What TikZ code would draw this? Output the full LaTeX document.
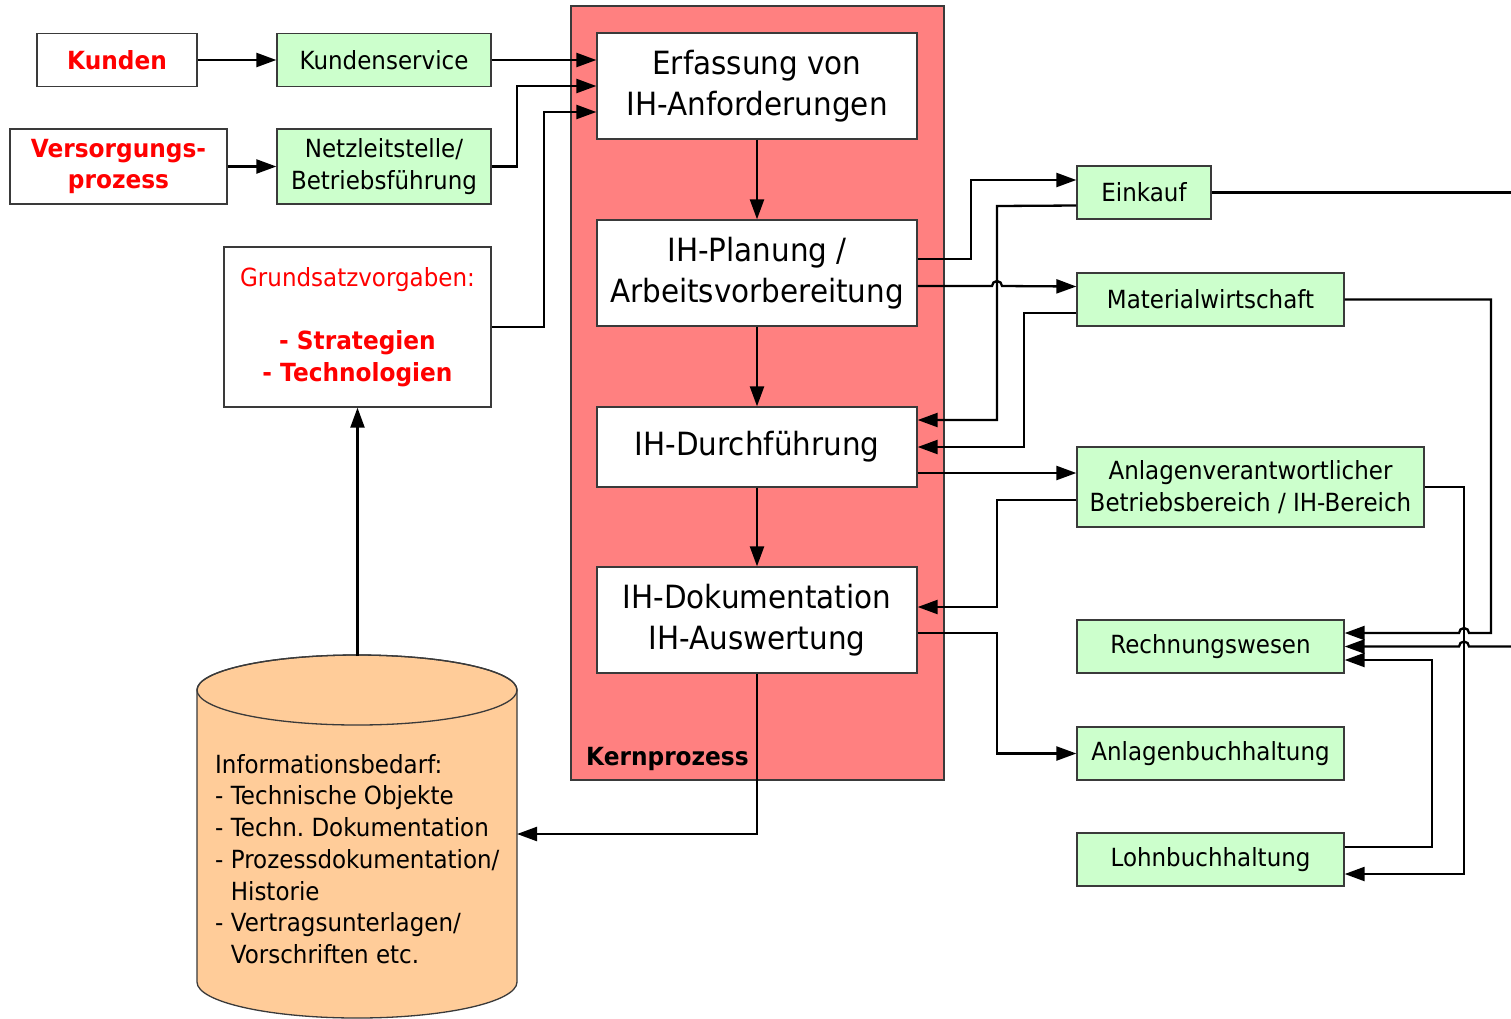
\documentclass[tikz,border=0pt]{standalone}
\usepackage{fontspec}
\setmainfont{DejaVu Sans}[FakeStretch=0.92,BoldFeatures={FakeStretch=0.93}]
\usetikzlibrary{arrows.meta}
\definecolor{kerncol}{HTML}{FF8080}
\definecolor{gfill}{HTML}{CCFFCC}
\definecolor{dbfill}{HTML}{FFCC99}
\definecolor{bord}{HTML}{3A3A3A}
\newcommand\fbig{\fontsize{32}{41}\selectfont}
\newcommand\fsmall{\fontsize{25}{31.5}\selectfont}
\frenchspacing
\begin{document}
\begin{tikzpicture}[x=1pt,y=-1pt,
  box/.style={draw=bord,line width=1.3pt,fill=white,inner sep=0pt,align=center,font=\fsmall},
  gbox/.style={box,fill=gfill},
  kbox/.style={box,font=\fbig,minimum width=320pt},
  redbold/.style={text=red,font=\fsmall\bfseries},
  conn/.style={line width=2.3pt,-{Triangle[length=20pt,width=14pt]}},
  plainconn/.style={line width=2.3pt}]
\useasboundingbox (0,0) rectangle (1511,1018);
\fill[white] (0,0) rectangle (1511,1018);

% Kernprozess area
\node[draw=bord,line width=1.3pt,fill=kerncol,minimum width=373pt,minimum height=774pt,inner sep=0pt] (kern) at (757.5,393) {};
\node[anchor=west,font=\fsmall\bfseries,inner sep=0pt] (kernlabel) at (586,759) {Kernprozess};

% left boxes
\node[box,redbold,minimum width=160pt,minimum height=53pt] (kunden) at (117,60) {Kunden};
\node[gbox,minimum width=214pt,minimum height=53pt] (ks) at (384,60) {Kundenservice};
\node[box,redbold,minimum width=217pt,minimum height=75pt] (vers) at (118.5,166.5) {Versorgungs-\\prozess};
\node[gbox,minimum width=214pt,minimum height=75pt] (netz) at (384,166.5) {Netzleitstelle/\\Betriebsführung};
\node[box,text=red,minimum width=267pt,minimum height=160pt] (grund) at (357.5,327) {Grundsatzvorgaben:\\[31.5pt]\textbf{- Strategien}\\\textbf{- Technologien}};

% core process boxes
\node[kbox,minimum height=106pt] (erf) at (757,86) {Erfassung von\\IH-Anforderungen};
\node[kbox,minimum height=106pt] (plan) at (757,273) {IH-Planung /\\Arbeitsvorbereitung};
\node[kbox,minimum height=80pt] (durch) at (757,447) {IH-Durchführung};
\node[kbox,minimum height=106pt] (doku) at (757,620) {IH-Dokumentation\\IH-Auswertung};

% right boxes
\node[gbox,minimum width=134pt,minimum height=53pt] (einkauf) at (1144,192.5) {Einkauf};
\node[gbox,minimum width=267pt,minimum height=53pt] (mat) at (1210.5,299.5) {Materialwirtschaft};
\node[gbox,minimum width=347pt,minimum height=80pt] (anl) at (1250.5,487) {Anlagenverantwortlicher\\Betriebsbereich / IH-Bereich};
\node[gbox,minimum width=267pt,minimum height=53pt] (rech) at (1210.5,646.5) {Rechnungswesen};
\node[gbox,minimum width=267pt,minimum height=53pt] (abuch) at (1210.5,753.5) {Anlagenbuchhaltung};
\node[gbox,minimum width=267pt,minimum height=53pt] (lohn) at (1210.5,859.5) {Lohnbuchhaltung};

% cylinder (database)
\filldraw[draw=bord,line width=1.3pt,fill=dbfill] (197,690) -- (197,982)
  arc[start angle=180,end angle=360,x radius=160pt,y radius=36pt] -- (517,690)
  arc[start angle=0,end angle=180,x radius=160pt,y radius=35pt] -- cycle;
\draw[draw=bord,line width=1.3pt] (357,690) ellipse[x radius=160pt,y radius=35pt];
\node[anchor=west,align=left,inner sep=0pt,font=\fontsize{25}{31.7}\selectfont] (dbtext) at (215,859)
  {Informationsbedarf:\\- Technische Objekte\\- Techn. Dokumentation\\- Prozessdokumentation/\\\hphantom{- }Historie\\- Vertragsunterlagen/\\\hphantom{- }Vorschriften etc.};
\coordinate (dbtop) at (357.5,656);
\coordinate (dbright) at (517,834);
\coordinate (eR) at (1511,192.5);
\coordinate (rR) at (1511,646.5);

% connectors left
\draw[conn] (kunden.east) -- (ks.west);
\draw[conn] (vers.east) -- (netz.west);
\draw[conn] (ks.east) -- (ks.east -| erf.west);
\draw[conn] (netz.east) -- (517,166.5) -- (517,86) -- (erf.west);
\draw[conn] (grund.east) -- (544,327) -- (544,112) -- ([yshift=-26pt]erf.west);
\draw[conn] (dbtop) -- (grund.south);

% core chain
\draw[conn] (erf.south) -- (plan.north);
\draw[conn] (plan.south) -- (durch.north);
\draw[conn] (durch.south) -- (doku.north);
\draw[conn] (doku.south) -- (757,834) -- (dbright);

% right connectors
\draw[conn] ([yshift=14pt]plan.east) -- (971,259) -- (971,180) -- ([yshift=12.5pt]einkauf.west);
\draw[conn] ([yshift=-13pt]plan.east) -- (992,286)
  arc[start angle=180,end angle=0,radius=5pt] -- ([yshift=13pt]mat.west);
\draw[conn] ([yshift=-13pt]einkauf.west) -- (997,206) -- (997,420) -- ([yshift=27pt]durch.east);
\draw[conn] ([yshift=-13.5pt]mat.west) -- (1024,313) -- (1024,447) -- (durch.east);
\draw[conn] ([yshift=-26pt]durch.east) -- ([yshift=14pt]anl.west);
\draw[conn] ([yshift=-13pt]anl.west) -- (997,500) -- (997,607) -- ([yshift=13pt]doku.east);
\draw[conn] ([yshift=-13pt]doku.east) -- (997,633) -- (997,753.5) -- (abuch.west);
\draw[plainconn] (einkauf.east) -- (eR);
\draw[conn] (mat.east) -- (1491,299.5) -- (1491,633) -- (1469,633)
  arc[start angle=0,end angle=180,radius=5pt] -- ([yshift=13.5pt]rech.east);
\draw[conn] (rR) -- (1469,646.5)
  arc[start angle=0,end angle=180,radius=5pt] -- (rech.east);
\draw[conn] (anl.east) -- (1464,487) -- (1464,874) -- ([yshift=-14.5pt]lohn.east);
\draw[conn] ([yshift=12.5pt]lohn.east) -- (1432,847) -- (1432,660) -- ([yshift=-13.5pt]rech.east);
\end{tikzpicture}
\end{document}
